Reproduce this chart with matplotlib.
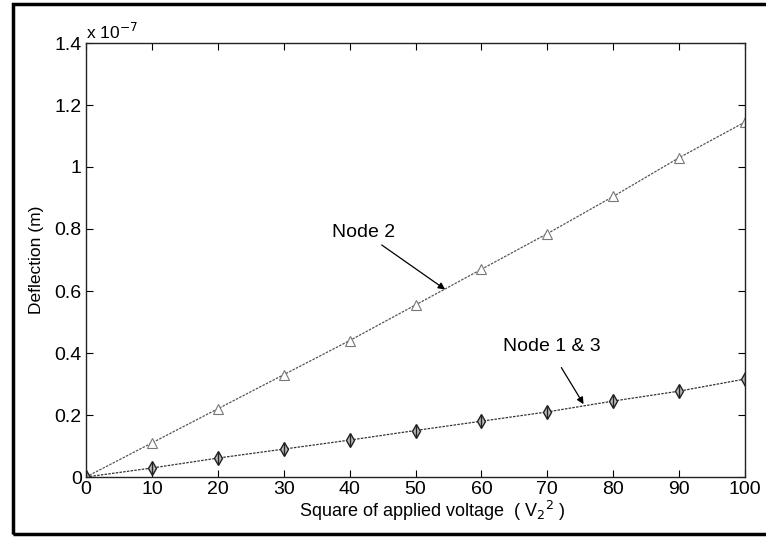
import matplotlib
matplotlib.use("Agg")
import matplotlib.pyplot as plt
from matplotlib.ticker import FuncFormatter, FixedLocator
from matplotlib.patches import Rectangle

plt.rcParams['font.family'] = ['Liberation Sans', 'DejaVu Sans']

voltage_sq = [0, 10, 20, 30, 40, 50, 60, 70, 80, 90, 100]
node2 = [0, 0.11, 0.22, 0.33, 0.44, 0.555, 0.67, 0.785, 0.905, 1.03, 1.145]
node13 = [0, 0.029, 0.061, 0.09, 0.119, 0.15, 0.18, 0.21, 0.245, 0.277, 0.316]
scale = 1e-7
node2_m = [v * scale for v in node2]
node13_m = [v * scale for v in node13]

xticks = [0, 10, 20, 30, 40, 50, 60, 70, 80, 90, 100]
yticks = [0, 0.2, 0.4, 0.6, 0.8, 1.0, 1.2, 1.4]

fig = plt.figure(figsize=(7.66, 5.38), dpi=100)
ax = fig.add_axes([86/766, 61/538, (745-86)/766, (477-43)/538])

ax.plot(voltage_sq, node2_m, color='#555555', lw=0.9, ls=(0, (2, 1)),
        marker='^', ms=6.5, mfc='white', mec='#777777', mew=0.8)
ax.plot(voltage_sq, node13_m, color='#333333', lw=0.9, ls=(0, (2, 1)),
        marker='d', ms=7, mfc='#bbbbbb', mec='#222222', mew=1.0)
ax.plot(voltage_sq, node13_m, ls='none', marker='|', ms=9, mec='#222222', mew=1.0)

ax.set_xlim(0, 100)
ax.set_ylim(0, 1.4 * scale)
ax.xaxis.set_major_locator(FixedLocator(xticks))
ax.yaxis.set_major_locator(FixedLocator([t * scale for t in yticks]))
ax.yaxis.set_major_formatter(FuncFormatter(lambda v, p: '%g' % round(v / scale, 3)))
ax.tick_params(direction='in', top=True, right=True, length=5, width=0.8,
               labelsize=14, colors='black', pad=3)
for s in ax.spines.values():
    s.set_linewidth(1.0)
    s.set_color('#222222')

ax.text(0.0, 1.003, r'x 10$^{-7}$', transform=ax.transAxes, fontsize=12.5,
        ha='left', va='bottom')

ax.set_xlabel(r'Square of applied voltage  ( V$_2$$^2$ )', fontsize=13)
ax.xaxis.set_label_coords(0.525, -0.05)
ax.set_ylabel('Deflection (m)', fontsize=12.5)
ax.yaxis.set_label_coords(-0.064, 0.5)

ax.annotate('Node 2', xy=(54.5, 0.605 * scale), xytext=(37.3, 0.79 * scale),
            fontsize=14, ha='left', va='center',
            arrowprops=dict(arrowstyle='-|>', color='black', lw=0.9,
                            shrinkA=2, shrinkB=0, mutation_scale=10))
ax.annotate('Node 1 & 3', xy=(75.5, 0.235 * scale), xytext=(63.3, 0.42 * scale),
            fontsize=14, ha='left', va='center',
            arrowprops=dict(arrowstyle='-|>', color='black', lw=0.9,
                            shrinkA=8, shrinkB=0, mutation_scale=10,
                            relpos=(0.52, 0.0)))

fig.patches.append(Rectangle((13/766, 4/538), 1.0, (534-4)/538,
                             transform=fig.transFigure, fill=False,
                             edgecolor='black', lw=2.5))

fig.savefig('out.png', dpi=100)
